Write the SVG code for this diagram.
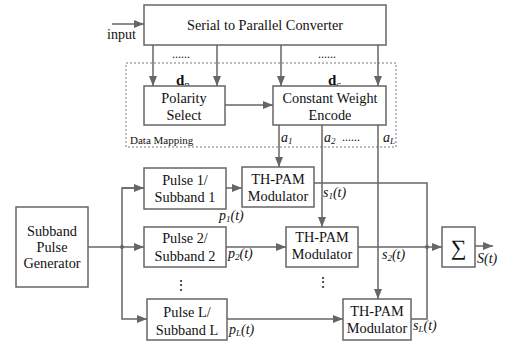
<svg xmlns="http://www.w3.org/2000/svg" width="505" height="342" viewBox="0 0 505 342" font-family="Liberation Serif, Times New Roman, serif">
<style>
.box{fill:#fff;stroke:#666;stroke-width:1.5}
.ln{fill:none;stroke:#666;stroke-width:1.5}
text{font-family:'Liberation Serif','Times New Roman',serif;fill:#111}
.t{font-size:14.3px;text-anchor:middle}
.m{font-size:14px;font-style:italic}
.sub{font-size:9px}
.s{font-size:11px}
</style>
<defs>
<marker id="ah" markerWidth="10" markerHeight="8" refX="10" refY="4" orient="auto" markerUnits="userSpaceOnUse">
<path d="M0,0 L10,4 L0,8 Z" fill="#666"/>
</marker>
</defs>
<rect x="126" y="63" width="270" height="84" fill="none" stroke="#777" stroke-width="1" stroke-dasharray="2,2"/>
<text class="s" x="130" y="144">Data Mapping</text>
<g id="connectors">
<line class="ln" x1="112" y1="24" x2="144" y2="24" marker-end="url(#ah)"/>
<line class="ln" x1="153" y1="45" x2="153" y2="86" marker-end="url(#ah)"/>
<line class="ln" x1="217" y1="45" x2="217" y2="86" marker-end="url(#ah)"/>
<line class="ln" x1="281" y1="45" x2="281" y2="86" marker-end="url(#ah)"/>
<line class="ln" x1="378" y1="45" x2="378" y2="86" marker-end="url(#ah)"/>
<line class="ln" x1="225" y1="105" x2="273" y2="105" marker-end="url(#ah)"/>
<line class="ln" x1="279" y1="125" x2="279" y2="167" marker-end="url(#ah)"/>
<line class="ln" x1="322" y1="125" x2="322" y2="227" marker-end="url(#ah)"/>
<line class="ln" x1="378" y1="125" x2="378" y2="299" marker-end="url(#ah)"/>
<line class="ln" x1="88" y1="247" x2="144" y2="247" marker-end="url(#ah)"/>
<polyline class="ln" points="144,188 122,188 122,319 147,319" marker-end="url(#ah)"/>
<line class="ln" x1="122" y1="188" x2="144" y2="188" marker-end="url(#ah)"/>
<circle cx="122" cy="247" r="2" fill="#666"/>
<line class="ln" x1="226" y1="188" x2="242" y2="188" marker-end="url(#ah)"/>
<line class="ln" x1="226" y1="247" x2="286" y2="247" marker-end="url(#ah)"/>
<line class="ln" x1="227" y1="319" x2="343" y2="319" marker-end="url(#ah)"/>
<polyline class="ln" points="314,183 427,183 427,319 411,319"/>
<line class="ln" x1="358" y1="247" x2="442" y2="247" marker-end="url(#ah)"/>
<circle cx="427" cy="247" r="2" fill="#666"/>
<line class="ln" x1="475" y1="246" x2="493" y2="246" marker-end="url(#ah)"/>
</g>
<text x="107" y="39" style="font-size:14px">input</text>
<text x="172" y="58" style="font-size:12px">......</text>
<text x="318" y="58" style="font-size:12px">......</text>
<text x="176" y="85" style="font-size:15px;font-weight:bold">d<tspan style="font-weight:normal;font-style:italic;font-size:10px" dy="3">p</tspan></text>
<text x="328" y="85" style="font-size:15px;font-weight:bold">d<tspan style="font-weight:normal;font-style:italic;font-size:10px" dy="3">c</tspan></text>
<text class="m" x="281" y="142">a<tspan class="sub" dy="2">1</tspan></text>
<text class="m" x="324" y="142">a<tspan class="sub" dy="2">2</tspan></text>
<text x="342" y="141" style="font-size:12px">......</text>
<text class="m" x="383" y="142">a<tspan class="sub" dy="2">L</tspan></text>
<text class="m" x="219" y="220">p<tspan class="sub" dy="2">1</tspan><tspan dy="-2">(t)</tspan></text>
<text class="m" x="228" y="258">p<tspan class="sub" dy="2">2</tspan><tspan dy="-2">(t)</tspan></text>
<text class="m" x="229" y="334">p<tspan class="sub" dy="2">L</tspan><tspan dy="-2">(t)</tspan></text>
<text class="m" x="323" y="197">s<tspan class="sub" dy="2">1</tspan><tspan dy="-2">(t)</tspan></text>
<text class="m" x="382" y="259">s<tspan class="sub" dy="2">2</tspan><tspan dy="-2">(t)</tspan></text>
<text class="m" x="413" y="330">s<tspan class="sub" dy="2">L</tspan><tspan dy="-2">(t)</tspan></text>
<text class="m" x="477" y="263">S(t)</text>
<text x="181" y="290" style="font-size:14px;text-anchor:middle">⋮</text>
<text x="323" y="287" style="font-size:14px;text-anchor:middle">⋮</text>
<g id="converter"><rect class="box" x="144" y="5" width="242" height="40"/><text class="t" x="265" y="30">Serial to Parallel Converter</text></g>
<g id="polarity"><rect class="box" x="144" y="86" width="81" height="39"/><text class="t" x="184" y="103">Polarity</text><text class="t" x="184" y="120">Select</text></g>
<g id="encode"><rect class="box" x="273" y="86" width="113" height="39"/><text class="t" x="330" y="103">Constant Weight</text><text class="t" x="330" y="120">Encode</text></g>
<g id="generator"><rect class="box" x="16" y="207" width="72" height="80"/><text class="t" x="52" y="236">Subband</text><text class="t" x="52" y="252">Pulse</text><text class="t" x="52" y="268">Generator</text></g>
<g id="pulse1"><rect class="box" x="144" y="168" width="82" height="41"/><text class="t" x="185" y="185">Pulse 1/</text><text class="t" x="185" y="202">Subband 1</text></g>
<g id="pulse2"><rect class="box" x="144" y="227" width="82" height="40"/><text class="t" x="185" y="243">Pulse 2/</text><text class="t" x="185" y="261">Subband 2</text></g>
<g id="pulseL"><rect class="box" x="147" y="299" width="80" height="41"/><text class="t" x="187" y="317">Pulse L/</text><text class="t" x="187" y="335">Subband L</text></g>
<g id="mod1"><rect class="box" x="242" y="167" width="72" height="40"/><text class="t" x="278" y="184">TH-PAM</text><text class="t" x="278" y="201">Modulator</text></g>
<g id="mod2"><rect class="box" x="286" y="227" width="72" height="40"/><text class="t" x="322" y="242">TH-PAM</text><text class="t" x="322" y="259">Modulator</text></g>
<g id="modL"><rect class="box" x="343" y="299" width="68" height="41"/><text class="t" x="377" y="316">TH-PAM</text><text class="t" x="377" y="333">Modulator</text></g>
<g id="sum"><rect class="box" x="442" y="227" width="33" height="40"/><text class="t" x="458.5" y="255" style="font-size:22px">∑</text></g>
</svg>
